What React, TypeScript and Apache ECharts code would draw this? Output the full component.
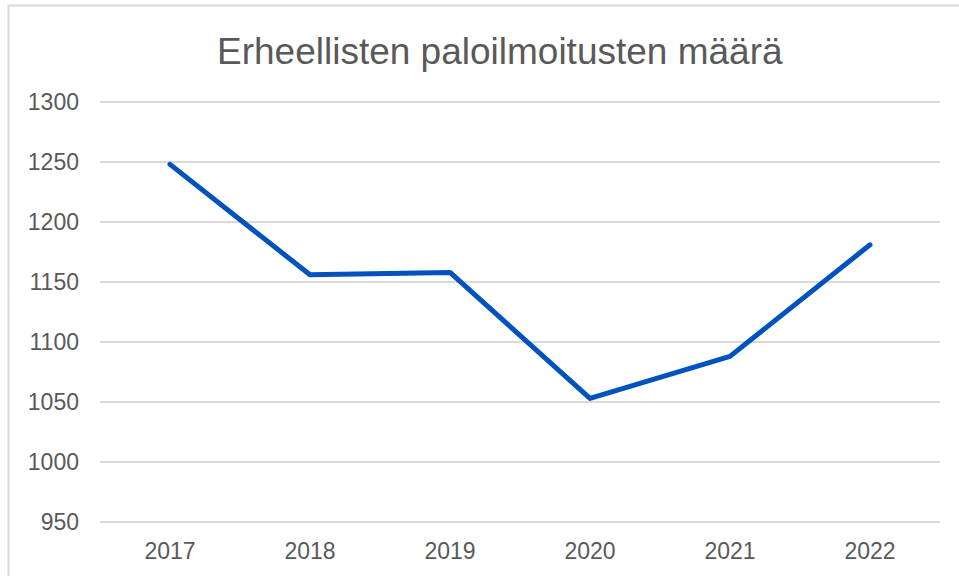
import React, { useEffect, useRef } from "react";
import * as echarts from "echarts";

const years = ["2017", "2018", "2019", "2020", "2021", "2022"];
const alarms = [1248, 1156, 1158, 1053, 1088, 1181];
const yMin = 950;
const yMax = 1300;
const yStep = 50;
const titleText = "Erheellisten paloilmoitusten määrä";

export default function App() {
  const ref = useRef<HTMLDivElement>(null);
  useEffect(() => {
    if (!ref.current) return;
    const chart = echarts.init(ref.current, null, { renderer: "svg" });
    chart.setOption({
      animation: false,
      backgroundColor: "#ffffff",
      textStyle: { fontFamily: "Liberation Sans, Arial, sans-serif" },
      title: {
        text: titleText,
        left: 212,
        top: 28,
        textStyle: {
          fontFamily: "Liberation Sans, Arial, sans-serif",
          fontSize: 37,
          fontWeight: "normal",
          color: "#595959",
        },
      },
      graphic: [
        {
          type: "rect",
          shape: { x: 8.5, y: 5.5, width: 1000, height: 1000 },
          style: { fill: "none", stroke: "#d9d9d9", lineWidth: 2 },
          silent: true,
        },
      ],
      grid: { left: 100, right: 19, top: 102, bottom: 54, containLabel: false },
      xAxis: {
        type: "category",
        data: years,
        boundaryGap: true,
        axisLine: { show: false },
        axisTick: { show: false },
        axisLabel: {
          color: "#595959",
          fontSize: 23,
          margin: 17,
          fontFamily: "Liberation Sans, Arial, sans-serif",
        },
      },
      yAxis: {
        type: "value",
        min: yMin,
        max: yMax,
        interval: yStep,
        axisLine: { show: false },
        axisTick: { show: false },
        axisLabel: {
          color: "#595959",
          fontSize: 23,
          margin: 21,
          fontFamily: "Liberation Sans, Arial, sans-serif",
          formatter: (v: number) => String(v),
        },
        splitLine: { lineStyle: { color: "#d9d9d9", width: 2 } },
      },
      series: [
        {
          type: "line",
          data: alarms,
          symbol: "none",
          lineStyle: { color: "#0052BE", width: 5, cap: "round", join: "round" },
        },
      ],
    });
    return () => chart.dispose();
  }, []);
  return <div ref={ref} style={{ width: 959, height: 576, position: "absolute", left: 0, top: 0 }} />;
}
